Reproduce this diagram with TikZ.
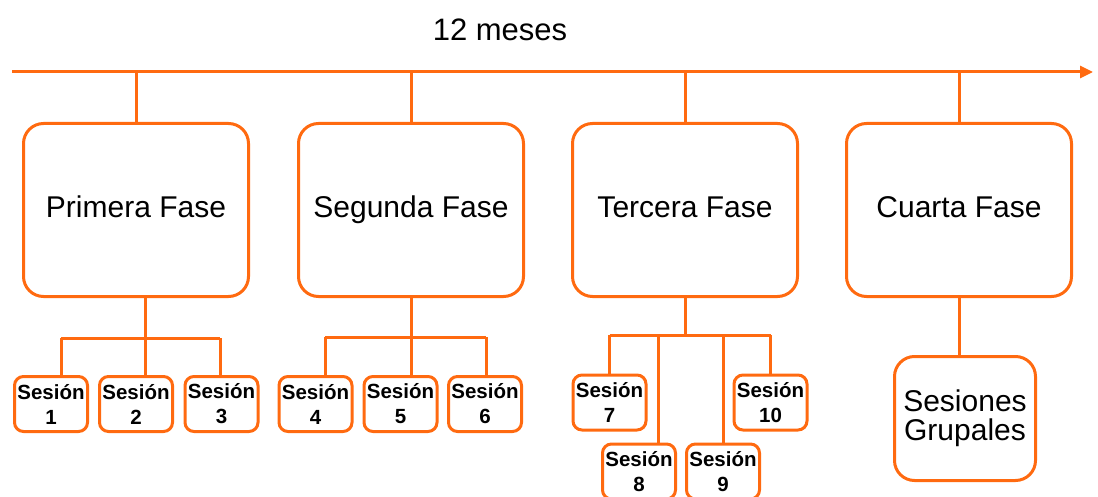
\documentclass[tikz,border=0pt]{standalone}
\usepackage{fontspec}
\setmainfont{Liberation Sans}
\usetikzlibrary{arrows.meta}
\definecolor{fase}{RGB}{255,106,16}
\begin{document}
\begin{tikzpicture}[x=1pt,y=-1pt,
  link/.style={draw=fase,line width=3pt},
  phasebox/.style={draw=fase,line width=3pt,rounded corners=20pt,
    minimum width=225pt,minimum height=173pt,inner sep=0pt,
    text height=22pt,text depth=6pt,
    font=\fontsize{30}{36}\selectfont},
  sessbox/.style={draw=fase,line width=3pt,rounded corners=9pt,
    minimum width=73pt,minimum height=55pt,inner sep=0pt,align=center,
    font=\bfseries\fontsize{20.5}{25}\selectfont},
  groupbox/.style={draw=fase,line width=3pt,rounded corners=20pt,
    minimum width=141pt,minimum height=124pt,inner sep=0pt,align=center,
    font=\fontsize{30}{29}\selectfont},
  title/.style={font=\fontsize{31}{36}\selectfont,inner sep=0pt}]
\useasboundingbox (0,0) rectangle (1098,497);
\clip (0,0) rectangle (1098,497);

% time line
\node[title] (title) at (500,30) {12 meses};
\coordinate (tl0) at (12,72);
\coordinate (tl1) at (1093,72);
\draw[link,-{Triangle[length=13pt,width=12pt]}] (tl0) -- (tl1);

% phases
\node[phasebox] (p1) at (136,210) {Primera Fase};
\node[phasebox] (p2) at (411,210) {Segunda Fase};
\node[phasebox] (p3) at (685,210) {Tercera Fase};
\node[phasebox] (p4) at (959,210) {Cuarta Fase};
\foreach \p in {p1,p2,p3,p4}
  \draw[link] (\p.north |- tl0) -- (\p.north);

% sessions
\node[sessbox] (s1) at (51,404) {Sesión\\1};
\node[sessbox] (s2) at (136,404) {Sesión\\2};
\node[sessbox] (s3) at (221.5,404) {Sesión\\3};
\node[sessbox] (s4) at (315.5,404) {Sesión\\4};
\node[sessbox] (s5) at (400.5,404) {Sesión\\5};
\node[sessbox] (s6) at (485,404) {Sesión\\6};
\node[sessbox] (s7) at (609.5,402.5) {Sesión\\7};
\node[sessbox] (s8) at (639,471.5) {Sesión\\8};
\node[sessbox] (s9) at (723,471.5) {Sesión\\9};
\node[sessbox] (s10) at (770.5,402.5) {Sesión\\10};
\node[groupbox] (g) at (965,418.5) {Sesiones\\Grupales};

% first phase branches
\coordinate (j1) at (145,338);
\coordinate (k1) at (61,338);
\coordinate (k2) at (145,338);
\coordinate (k3) at (220,338);
\draw[link] (p1.south -| j1) -- (j1);
\draw[link] (k1) -- (k3);
\draw[link] (k1) -- (k1 |- s1.north);
\draw[link] (k2) -- (k2 |- s2.north);
\draw[link] (k3) -- (k3 |- s3.north);

% second phase branches
\coordinate (j2) at (411,337);
\coordinate (k4) at (325,337);
\coordinate (k5) at (411,337);
\coordinate (k6) at (486,337);
\draw[link] (p2.south) -- (j2);
\draw[link] (k4) -- (k6);
\draw[link] (k4) -- (k4 |- s4.north);
\draw[link] (k5) -- (k5 |- s5.north);
\draw[link] (k6) -- (k6 |- s6.north);

% third phase branches
\coordinate (j3) at (685,335);
\coordinate (k7) at (609.5,335);
\coordinate (k8) at (658,335);
\coordinate (k9) at (723,335);
\coordinate (k10) at (770.5,335);
\draw[link] (p3.south) -- (j3);
\draw[link] (k7) -- (k10);
\draw[link] (k7) -- (k7 |- s7.north);
\draw[link] (k8) -- (k8 |- s8.north);
\draw[link] (k9) -- (k9 |- s9.north);
\draw[link] (k10) -- (k10 |- s10.north);

% fourth phase
\draw[link] (p4.south) -- (p4.south |- g.north);
\end{tikzpicture}
\end{document}
